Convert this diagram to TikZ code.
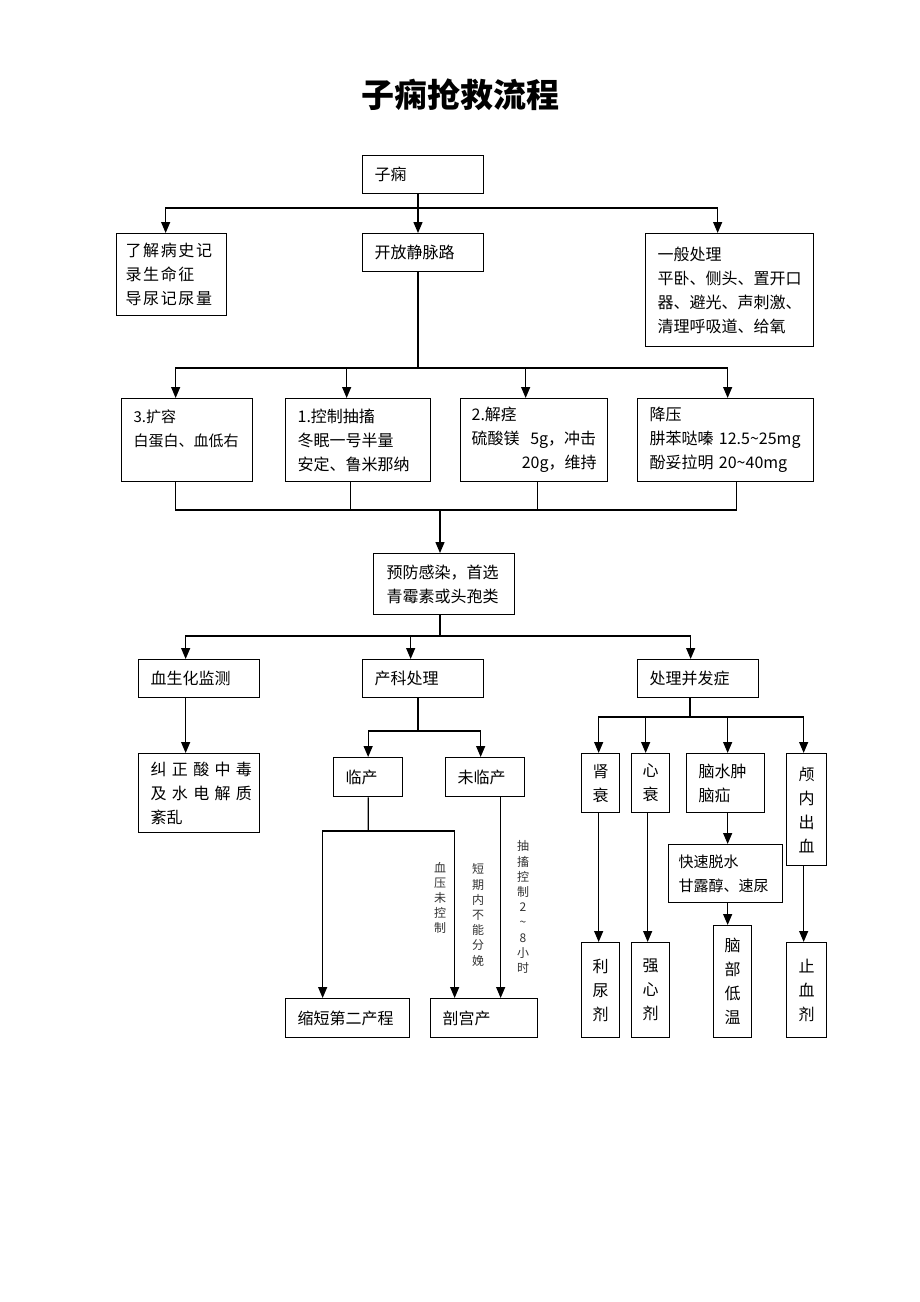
\documentclass[tikz,border=0pt]{standalone}
\usepackage{fontspec}
\setmainfont{Noto Sans CJK SC}
\usepackage{tikz}
\usetikzlibrary{arrows.meta}

\tikzset{
  box/.style={draw, line width=1.3pt, anchor=north west, inner xsep=12pt, inner ysep=0pt,
    align=left, font=\fontsize{16}{24}\selectfont},
  col/.style={draw, line width=1.3pt, anchor=north west, inner sep=0pt,
    align=center, font=\fontsize{16}{24}\selectfont},
  conn/.style={line width=1.3pt},
  arr/.style={line width=1.3pt, -{Triangle[length=11pt,width=9pt]}},
  side/.style={align=center, inner sep=0pt, font=\fontsize{12}{15.2}\selectfont, text=black!80}
}

\begin{document}
\begin{tikzpicture}[x=1pt,y=-1pt]
        \useasboundingbox (0,0) rectangle (920,1302);
        \node (title) at (460,95) {\fontsize{33}{33}\selectfont\bfseries 子痫抢救流程};

        \node[box, text width=97pt, minimum height=38pt] (zixian) at (362,155) {子痫};
        \node[box, inner xsep=9pt, text width=92pt, minimum height=82pt] (liaojie) at (116,233) {\addfontfeature{LetterSpace=10}了解病史记\\录生命征\\导尿记尿量};
        \node[box, text width=97pt, minimum height=38pt] (kaifang) at (362,233) {开放静脉路};
        \node[box, text width=144pt, minimum height=113pt] (yiban) at (645,233) {一般处理\\平卧、侧头、置开口\\器、避光、声刺激、\\清理呼吸道、给氧};

        \node[box, text width=107pt, minimum height=83pt, font=\fontsize{15}{24}\selectfont] (kuo) at (121,398) {3.扩容\\白蛋白、血低右\\\mbox{}};
        \node[box, text width=121pt, minimum height=83pt] (kongzhi) at (285,398) {1.控制抽搐\\冬眠一号半量\\安定、鲁米那纳};
        \node[box, text width=125pt, inner xsep=11pt, minimum height=83pt] (jiejing) at (460,398) {2.解痉\\硫酸镁~~5g，冲击\\\hspace*{\fill}20g，维持};
        \node[box, text width=152pt, minimum height=83pt] (jiangya) at (637,398) {降压\\肼苯哒嗪 12.5\textasciitilde 25mg\\酚妥拉明 20\textasciitilde 40mg};

        \node[box, inner xsep=13pt, text width=115pt, minimum height=61pt] (yufang) at (373,553) {预防感染，首选\\青霉素或头孢类};

        \node[box, text width=97pt, minimum height=38pt] (xuesheng) at (138,659) {血生化监测};
        \node[box, text width=97pt, minimum height=38pt] (chanke) at (362,659) {产科处理};
        \node[box, text width=97pt, minimum height=38pt] (bingfa) at (637,659) {处理并发症};

        \node[box, text width=97pt, minimum height=79pt] (jiuzheng) at (138,753) {\makebox[97pt][s]{纠 正 酸 中 毒}\\\makebox[97pt][s]{及 水 电 解 质}\\紊乱};

        \node[box, text width=45pt, minimum height=39pt] (linchan) at (333,757) {临产};
        \node[box, text width=55pt, minimum height=39pt] (weilin) at (445,757) {未临产};
        \node[box, text width=100pt, minimum height=39pt] (suoduan) at (285,998) {缩短第二产程};
        \node[box, text width=83pt, minimum height=39pt] (pougong) at (430,998) {剖宫产};

        \node[side] (xueya) at (440,898) {血\\压\\未\\控\\制};
        \node[side] (duanqi) at (478,915) {短\\期\\内\\不\\能\\分\\娩};
        \node[side] (chouchu) at (523,907) {抽\\搐\\控\\制\\2\\\textasciitilde\\8\\小\\时};

        \node[col, minimum width=38pt, minimum height=59pt] (shenshuai) at (581,753) {肾\\衰};
        \node[col, minimum width=38pt, minimum height=59pt] (xinshuai) at (631,753) {心\\衰};
        \node[box, text width=54pt, minimum height=59pt] (naoshui) at (686,753) {脑水肿\\脑疝};
        \node[col, minimum width=40pt, minimum height=112pt] (lunei) at (786,753) {颅\\内\\出\\血};
        \node[box, inner xsep=10pt, text width=94pt, minimum height=58pt, font=\fontsize{15}{24}\selectfont] (kuaisu) at (668,844) {快速脱水\\甘露醇、速尿};
        \node[col, minimum width=38pt, minimum height=112pt] (naobu) at (713,925) {脑\\部\\低\\温};
        \node[col, minimum width=38pt, minimum height=95pt] (liniao) at (581,942) {利\\尿\\剂};
        \node[col, minimum width=38pt, minimum height=95pt] (qiangxin) at (631,942) {强\\心\\剂};
        \node[col, minimum width=40pt, minimum height=95pt] (zhixue) at (786,942) {止\\血\\剂};

        \coordinate (b1) at (418,208);
        \coordinate (b2) at (418,368);
        \coordinate (b3) at (440,510);
        \coordinate (b4) at (440,636);
        \coordinate (b5) at (418,731);
        \coordinate (b6) at (368.2,831);
        \coordinate (b7) at (690,717);

        \draw[conn] (b1 |- zixian.south) -- (b1);
        \draw[arr] (b1) -| ([xshift=-6pt]liaojie.north);
        \draw[arr] (b1) -- (b1 |- kaifang.north);
        \draw[arr] (b1) -| ([xshift=-12pt]yiban.north);

        \draw[conn] (b2 |- kaifang.south) -- (b2);
        \draw[arr] (b2) -| ([xshift=-11.5pt]kuo.north);
        \draw[arr] (b2) -| ([xshift=-11.5pt]kongzhi.north);
        \draw[arr] (b2) -| ([xshift=-8.5pt]jiejing.north);
        \draw[arr] (b2) -| ([xshift=2pt]jiangya.north);

        \draw[conn] ([xshift=-11.5pt]kuo.south) |- (b3);
        \draw[conn] ([xshift=-7.5pt]kongzhi.south) |- (b3);
        \draw[conn] ([xshift=3.5pt]jiejing.south) |- (b3);
        \draw[conn] ([xshift=11pt]jiangya.south) |- (b3);
        \draw[arr] (b3) -- (b3 |- yufang.north);

        \draw[conn] (b4 |- yufang.south) -- (b4);
        \draw[arr] (b4) -| ([xshift=-13.5pt]xuesheng.north);
        \draw[arr] (b4) -| ([xshift=-12.5pt]chanke.north);
        \draw[arr] (b4) -| ([xshift=-7.5pt]bingfa.north);

        \draw[arr] ([xshift=-13.5pt]xuesheng.south) -- ([xshift=-13.5pt]jiuzheng.north);

        \draw[conn] (b5 |- chanke.south) -- (b5);
        \draw[arr] (b5) -| (linchan.north);
        \draw[arr] (b5) -| ([xshift=-4.5pt]weilin.north);

        \draw[conn] (linchan.south) -- (b6);
        \draw[arr] (b6) -| ([xshift=-25pt]suoduan.north);
        \draw[arr] (b6) -| ([xshift=-29.5pt]pougong.north);
        \draw[arr] ([xshift=15.5pt]weilin.south) -- ([xshift=16.5pt]pougong.north);

        \draw[conn] (b7 |- bingfa.south) -- (b7);
        \draw[arr] (b7) -| ([xshift=-2pt]shenshuai.north);
        \draw[arr] (b7) -| ([xshift=-5pt]xinshuai.north);
        \draw[arr] (b7) -| ([xshift=2pt]naoshui.north);
        \draw[arr] (b7) -| ([xshift=-3pt]lunei.north);

        \draw[arr] ([xshift=-2pt]shenshuai.south) -- ([xshift=-2pt]liniao.north);
        \draw[arr] ([xshift=-3pt]xinshuai.south) -- ([xshift=-3pt]qiangxin.north);
        \draw[arr] ([xshift=2pt]naoshui.south) -- ([xshift=2pt]kuaisu.north);
        \draw[arr] ([xshift=2pt]kuaisu.south) -- ([xshift=-5pt]naobu.north);
        \draw[arr] ([xshift=-3pt]lunei.south) -- ([xshift=-3pt]zhixue.north);
\end{tikzpicture}
\end{document}
